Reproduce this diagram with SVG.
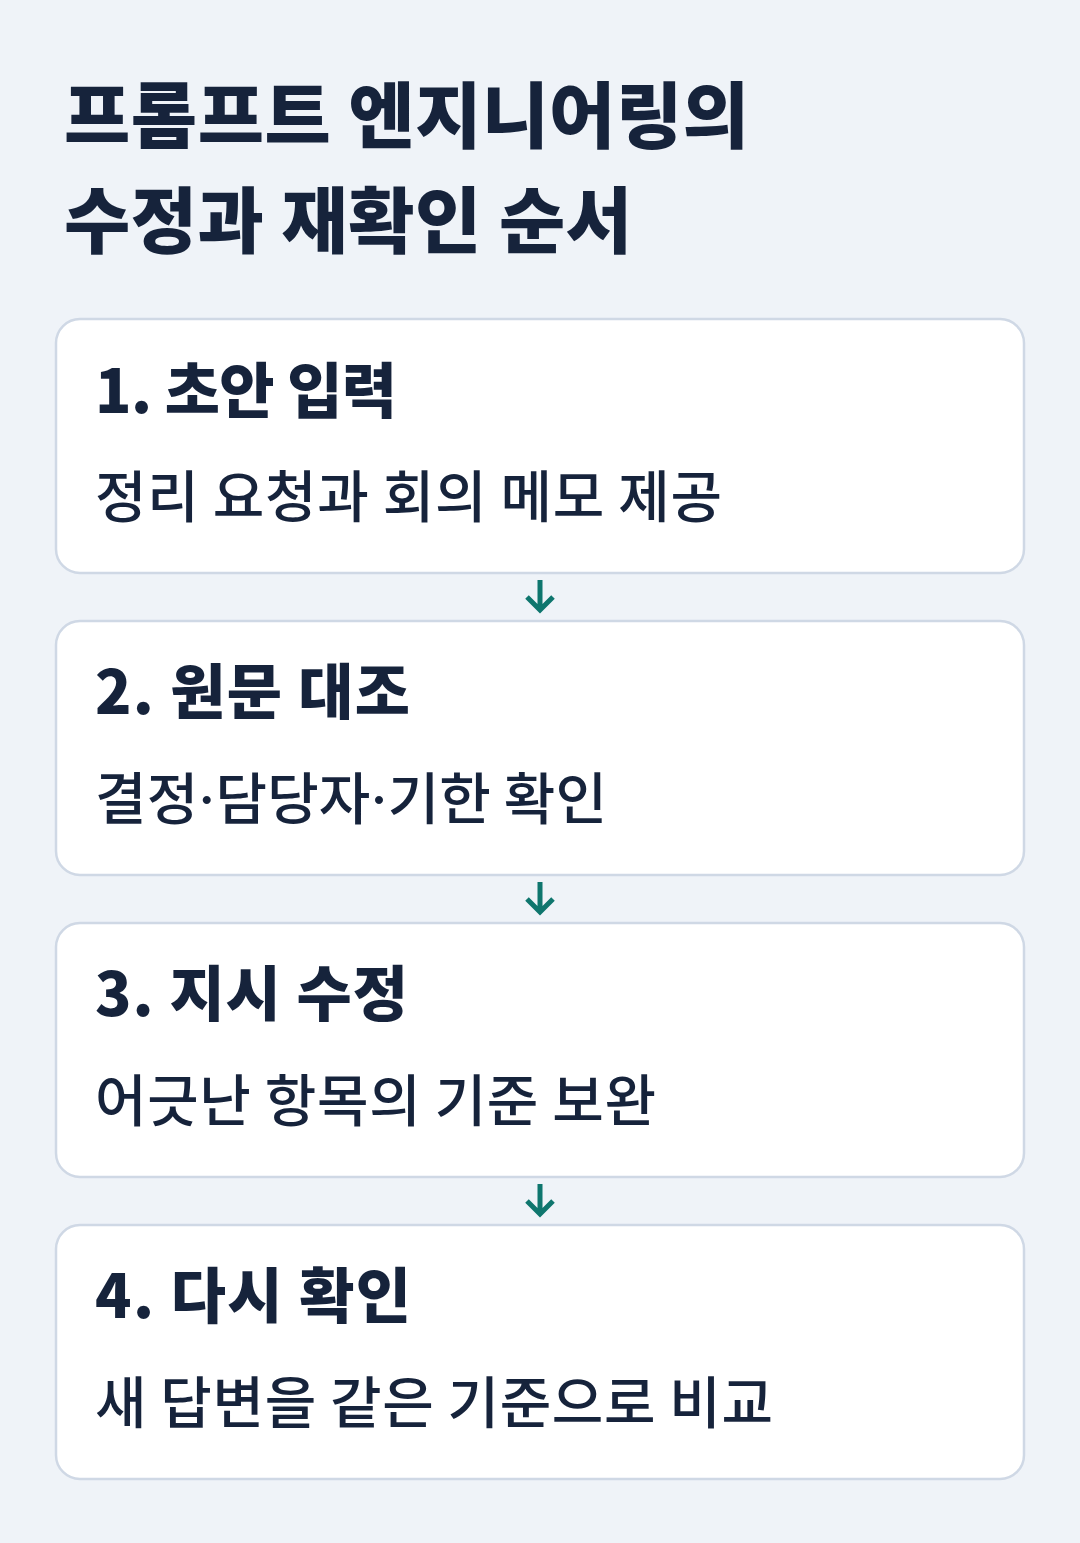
<svg xmlns="http://www.w3.org/2000/svg" width="1080" height="1543" viewBox="0 0 1080 1543">
<style>
.t{font-family:"Noto Sans CJK KR","Noto Sans",sans-serif;fill:#16233b}
.title{font-size:72px;font-weight:800}
.h{font-size:60px;font-weight:800}
.s{font-size:56px;font-weight:500}
.dot{font-family:"Inter","Noto Sans",sans-serif}
.box{fill:#ffffff;stroke:#cfd8e5;stroke-width:2.5}
.conn{stroke:#0f766e;stroke-width:5;fill:none;stroke-linecap:butt;stroke-linejoin:miter}
</style>
<rect width="1080" height="1543" fill="#eff3f8"/>
<g id="title">
<text class="t title" x="64" y="142" textLength="685" lengthAdjust="spacing">프롬프트 엔지니어링의</text>
<text class="t title" x="64" y="247" textLength="568" lengthAdjust="spacing">수정과 재확인 순서</text>
</g>
<g id="connectors">
<path class="conn" d="M540 580V609M527 597L540 610L553 597"/>
<path class="conn" d="M540 882V911M527 899L540 912L553 899"/>
<path class="conn" d="M540 1184V1213M527 1201L540 1214L553 1201"/>
</g>
<g id="step1">
<rect class="box" x="56" y="319" width="968" height="254" rx="24"/>
<text class="t h" x="95" y="413" textLength="302" lengthAdjust="spacing">1. 초안 입력</text>
<text class="t s" x="95" y="517" textLength="627" lengthAdjust="spacing">정리 요청과 회의 메모 제공</text>
</g>
<g id="step2">
<rect class="box" x="56" y="621" width="968" height="254" rx="24"/>
<text class="t h" x="95" y="714" textLength="315" lengthAdjust="spacing">2. 원문 대조</text>
<text class="t s" x="95" y="819" textLength="512" lengthAdjust="spacing">결정<tspan class="dot">·</tspan>담당자<tspan class="dot">·</tspan>기한 확인</text>
</g>
<g id="step3">
<rect class="box" x="56" y="923" width="968" height="254" rx="24"/>
<text class="t h" x="95" y="1016" textLength="313" lengthAdjust="spacing">3. 지시 수정</text>
<text class="t s" x="95" y="1121" textLength="561" lengthAdjust="spacing">어긋난 항목의 기준 보완</text>
</g>
<g id="step4">
<rect class="box" x="56" y="1225" width="968" height="254" rx="24"/>
<text class="t h" x="95" y="1318" textLength="316" lengthAdjust="spacing">4. 다시 확인</text>
<text class="t s" x="95" y="1423" textLength="678" lengthAdjust="spacing">새 답변을 같은 기준으로 비교</text>
</g>
</svg>
